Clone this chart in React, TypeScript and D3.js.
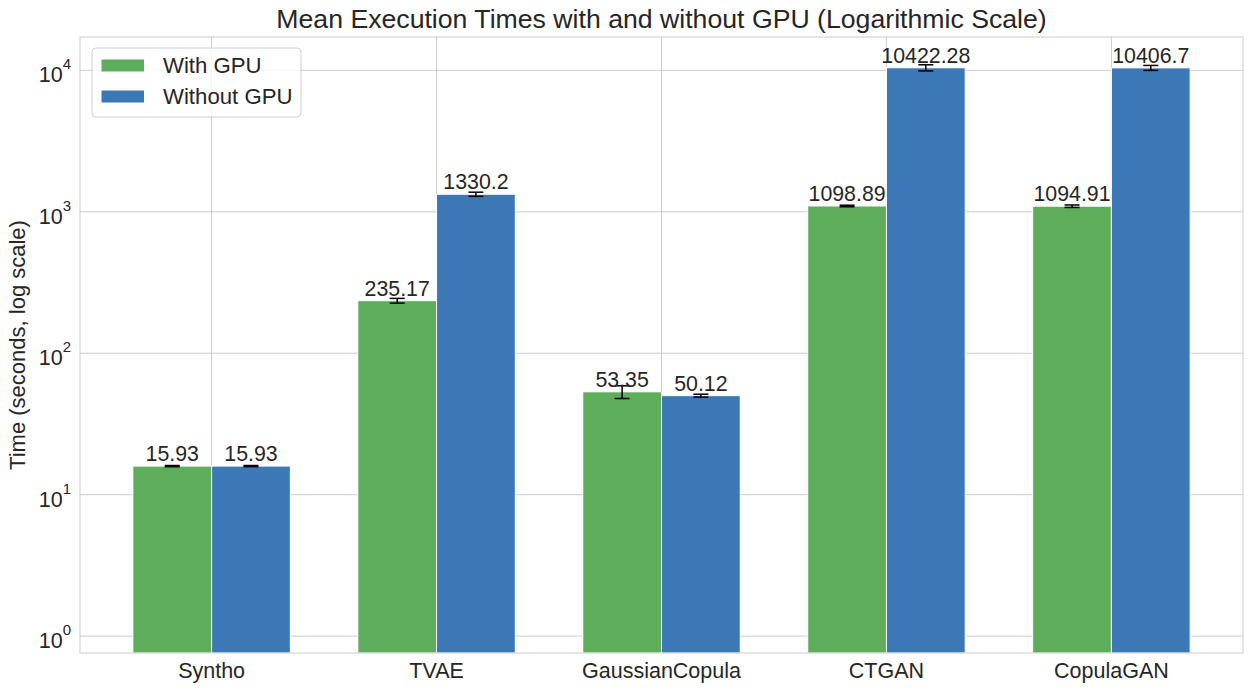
import React from "react";
import { scaleLinear, scaleLog } from "d3";

const categories = ["Syntho", "TVAE", "GaussianCopula", "CTGAN", "CopulaGAN"];
const withGpu = [15.93, 235.17, 53.35, 1098.89, 1094.91];
const withoutGpu = [15.93, 1330.2, 50.12, 10422.28, 10406.7];
const withGpuErr = [0.15, 9, 5.5, 14, 22];
const withoutGpuErr = [0.15, 45, 1.2, 520, 420];
const yTicks = [0, 1, 2, 3, 4];
const seriesNames = ["With GPU", "Without GPU"];

const W = 1252;
const H = 693;
const left = 80;
const right = 1243;
const top = 37;
const bottom = 653;
const barW = 0.35;
const green = "#5dad5a";
const blue = "#3c78b5";
const grid = "#cccccc";
const ink = "#262626";
const font = "'Liberation Sans', Arial, sans-serif";

const x = scaleLinear().domain([-0.585, 4.585]).range([left, right]);
const y = scaleLog().domain([0.76, 17200]).range([bottom, top]);

const series = [
  { name: seriesNames[0], values: withGpu, err: withGpuErr, color: green, off: -barW },
  { name: seriesNames[1], values: withoutGpu, err: withoutGpuErr, color: blue, off: 0 },
];

export default function App() {
  const bw = x(barW) - x(0);
  return (
    <div style={{ position: "absolute", left: 0, top: 0 }}>
      <svg width={W} height={H} style={{ display: "block", fontFamily: font }}>
        <rect width={W} height={H} fill="#fff" />
        {/* grid */}
        {categories.map((c, i) => (
          <line key={c} x1={x(i)} x2={x(i)} y1={top} y2={bottom} stroke={grid} strokeWidth={1} />
        ))}
        {yTicks.map((t) => (
          <line key={t} x1={left} x2={right} y1={y(10 ** t)} y2={y(10 ** t)} stroke={grid} strokeWidth={1} />
        ))}
        {/* bars */}
        {series.map((s) =>
          s.values.map((v, i) => (
            <rect
              key={s.name + i}
              x={x(i + s.off)}
              y={y(v)}
              width={bw}
              height={bottom - y(v)}
              fill={s.color}
              stroke="#fff"
              strokeWidth={1}
            />
          ))
        )}
        {/* error bars */}
        {series.map((s) =>
          s.values.map((v, i) => {
            const cx = x(i + s.off + barW / 2);
            const y1 = y(v + s.err[i]);
            const y2 = y(v - s.err[i]);
            return (
              <g key={"e" + s.name + i} stroke="#000" strokeWidth={1.5}>
                <line x1={cx} x2={cx} y1={y1} y2={y2} />
                <line x1={cx - 7.5} x2={cx + 7.5} y1={y1} y2={y1} />
                <line x1={cx - 7.5} x2={cx + 7.5} y1={y2} y2={y2} />
              </g>
            );
          })
        )}
        {/* value labels */}
        {series.map((s) =>
          s.values.map((v, i) => (
            <text
              key={"t" + s.name + i}
              x={x(i + s.off + barW / 2)}
              y={y(v) - 5}
              textAnchor="middle"
              fontSize={21.33}
              fill={ink}
            >
              {String(v)}
            </text>
          ))
        )}
        {/* spines */}
        <rect x={left} y={top} width={right - left} height={bottom - top} fill="none" stroke={grid} strokeWidth={1} />
        {/* x ticks */}
        {categories.map((c, i) => (
          <text key={"x" + c} x={x(i)} y={678} textAnchor="middle" fontSize={21.5} fill={ink}>
            {c}
          </text>
        ))}
        {/* y ticks */}
        {yTicks.map((t) => (
          <text key={"y" + t} x={71} y={y(10 ** t) + 12} textAnchor="end" fill={ink} fontSize={21.5}>
            <tspan>10</tspan>
            <tspan fontSize={15} dy={-13}>{t}</tspan>
          </text>
        ))}
        <text
          transform={`translate(25,${(top + bottom) / 2}) rotate(-90)`}
          textAnchor="middle"
          fontSize={22}
          fill={ink}
        >
          Time (seconds, log scale)
        </text>
        <text x={(left + right) / 2} y={28} textAnchor="middle" fontSize={26.67} fill={ink}>
          Mean Execution Times with and without GPU (Logarithmic Scale)
        </text>
        {/* legend */}
        <rect x={92} y={48} width={209} height={69} rx={4} fill="#fff" fillOpacity={0.8} stroke="#d0d0d0" strokeWidth={1} />
        {series.map((s, k) => (
          <g key={"l" + s.name}>
            <rect x={101} y={59 + k * 31} width={43.5} height={13} fill={s.color} stroke="#fff" strokeWidth={1} />
            <text x={163} y={73 + k * 30.5} fontSize={22.2} fill={ink}>
              {s.name}
            </text>
          </g>
        ))}
      </svg>
    </div>
  );
}
